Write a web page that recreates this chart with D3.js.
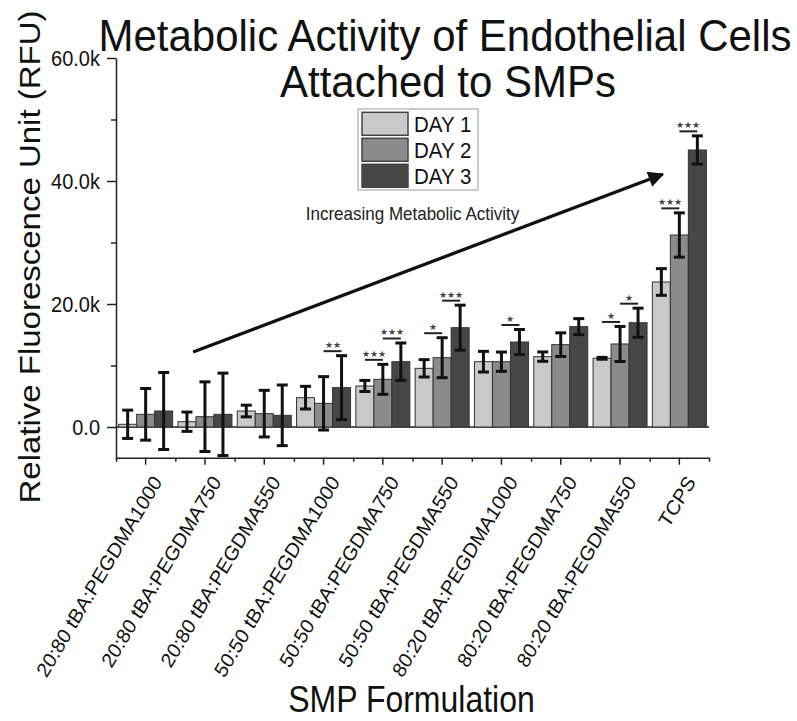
<!DOCTYPE html>
<html><head><meta charset="utf-8">
<script src="https://cdn.jsdelivr.net/npm/d3@7/dist/d3.min.js"></script>
<style>
html,body{margin:0;padding:0;background:#fff;}
svg{display:block;}
text{font-family:"Liberation Sans", Arial, sans-serif;}
</style></head>
<body>
<svg id="chart" width="797" height="721"></svg>
<script>
// ---------- data ----------
const categories = ["20:80 tBA:PEGDMA1000","20:80 tBA:PEGDMA750","20:80 tBA:PEGDMA550",
  "50:50 tBA:PEGDMA1000","50:50 tBA:PEGDMA750","50:50 tBA:PEGDMA550",
  "80:20 tBA:PEGDMA1000","80:20 tBA:PEGDMA750","80:20 tBA:PEGDMA550","TCPS"];
const seriesNames = ["DAY 1","DAY 2","DAY 3"];
const day1 = [440, 860, 2600, 4770, 6670, 9540, 10620, 11440, 11170, 23580];
const day1Err = [2300, 1570, 950, 1840, 900, 1410, 1680, 760, 150, 2170];
const day2 = [2060, 1680, 2170, 3850, 7750, 11270, 10620, 13390, 13500, 31220];
const day2Err = [4200, 5660, 3790, 4340, 2440, 3250, 1570, 1920, 2850, 3600];
const day3 = [2600, 2060, 1900, 6400, 10620, 16150, 13820, 16320, 16960, 45040];
const day3Err = [6260, 6700, 4930, 5200, 3040, 3660, 2030, 1300, 2360, 2300];
// significance brackets: group index, first bar of adjacent pair, label
const sigGroup = [3, 4, 4, 5, 5, 6, 8, 8, 9, 9];
const sigPair  = [1, 0, 1, 0, 1, 1, 0, 1, 0, 1];
const sigLabel = ["★★","★★★","★★★","★","★★★","★","★","★","★★★","★★★"];
const yMajorTicks = [0, 20000, 40000, 60000];
const yMinorTicks = [10000, 30000, 50000];
const yTickLabels = ["0.0","20.0k","40.0k","60.0k"];
// arrow annotation in data space: [category position, value]
const arrowFrom = [1.3, 12200];
const arrowTo = [9.22, 41100];
const arrowText = "Increasing Metabolic Activity";
const arrowTextPos = [5.0, 33700];

const values = [day1, day2, day3];
const errors = [day1Err, day2Err, day3Err];
const colors = ["#c9c9c9", "#8b8b8b", "#474747"];
const SY = 1.1;

// ---------- layout ----------
const svg = d3.select("#chart");
const x = d3.scaleBand().domain(categories).range([116, 709]).padding(0);
const xi = d3.scaleLinear().domain([0, categories.length]).range([116, 709]);
const y = d3.scaleLinear().domain([-5000, 60000]).range([457.75, 58]);
const inner = d3.scaleBand().domain([0,1,2]).range([0, 54]);
const groupOff = (x.bandwidth() - 54) / 2;
const barX = (g, s) => x(categories[g]) + groupOff + inner(s);
const barCx = (g, s) => barX(g, s) + inner.bandwidth() / 2;

function stext(parent, px, py, str, size, anchor, rot, sy) {
  const g = parent.append("g")
    .attr("transform", `translate(${px},${py}) scale(1,${sy || SY})` + (rot ? ` rotate(${rot})` : ""));
  return g.append("text").attr("text-anchor", anchor || "start")
    .attr("font-size", size).attr("fill", "#111").text(str);
}

// ---------- axes ----------
const axisColor = "#222";
const yAxis = svg.append("g").attr("transform", "translate(116,0)")
  .call(d3.axisLeft(y).tickValues(yMajorTicks).tickSize(9).tickSizeOuter(0).tickFormat(""));
yAxis.append("g").call(d3.axisLeft(y).tickValues(yMinorTicks).tickSize(5).tickSizeOuter(0).tickFormat(""))
  .select(".domain").remove();
yAxis.selectAll("path,line").attr("stroke", axisColor).attr("stroke-width", 1.5);
yMajorTicks.forEach((v, i) => {
  stext(svg, 100, y(v), yTickLabels[i], 20, "end").attr("dy", "0.35em");
});

const xAxis = svg.append("g").attr("transform", `translate(0,${y(-5000)})`)
  .call(d3.axisBottom(x).tickSize(7).tickSizeOuter(0).tickFormat(""));
xAxis.append("g").call(d3.axisBottom(xi).tickValues(d3.range(0, categories.length + 1)).tickSize(4).tickSizeOuter(0).tickFormat(""))
  .select(".domain").remove();
xAxis.selectAll("path,line").attr("stroke", axisColor).attr("stroke-width", 1.5);
categories.forEach(c => {
  stext(svg, x(c) + x.bandwidth() / 2 + 17, 482, c, 19, "end", -57);
});

// zero line
svg.append("line").attr("x1", 116).attr("x2", 709).attr("y1", y(0)).attr("y2", y(0))
  .attr("stroke", axisColor).attr("stroke-width", 1.5);

// ---------- bars ----------
const plot = svg.append("g");
seriesNames.forEach((name, s) => {
  plot.selectAll(null).data(values[s]).enter().append("rect")
    .attr("x", (d, g) => barX(g, s))
    .attr("width", inner.bandwidth())
    .attr("y", d => Math.min(y(d), y(0)))
    .attr("height", d => Math.abs(y(0) - y(d)))
    .attr("fill", colors[s]).attr("stroke", "#333").attr("stroke-width", 1);
});
// error bars
const capW = 11;
seriesNames.forEach((name, s) => {
  values[s].forEach((v, g) => {
    const e = errors[s][g], cx = barCx(g, s);
    const eg = plot.append("g").attr("stroke", "#111").attr("stroke-width", 3);
    eg.append("line").attr("x1", cx).attr("x2", cx).attr("y1", y(v - e)).attr("y2", y(v + e));
    eg.append("line").attr("x1", cx - capW/2).attr("x2", cx + capW/2).attr("y1", y(v + e)).attr("y2", y(v + e));
    eg.append("line").attr("x1", cx - capW/2).attr("x2", cx + capW/2).attr("y1", y(v - e)).attr("y2", y(v - e));
  });
});
// significance
sigGroup.forEach((g, i) => {
  const p = sigPair[i];
  const top = Math.max(values[p][g] + errors[p][g], values[p+1][g] + errors[p+1][g]);
  const ly = y(top) - 4.5;
  const x1 = barCx(g, p), x2 = barCx(g, p + 1);
  svg.append("line").attr("x1", x1).attr("x2", x2).attr("y1", ly).attr("y2", ly)
    .attr("stroke", "#222").attr("stroke-width", 2);
  svg.append("text").attr("x", (x1 + x2) / 2).attr("y", ly - 3)
    .attr("text-anchor", "middle").attr("font-size", 8.5)
    .attr("font-family", "DejaVu Sans").attr("fill", "#444").text(sigLabel[i]);
});

// ---------- arrow annotation ----------
const defs = svg.append("defs");
defs.append("marker").attr("id", "ah").attr("viewBox", "0 0 10 10")
  .attr("refX", 9).attr("refY", 5).attr("markerWidth", 6.5).attr("markerHeight", 4.8)
  .attr("orient", "auto").attr("markerUnits", "strokeWidth")
  .append("path").attr("d", "M0,0 L10,5 L0,10 Z").attr("fill", "#111");
svg.append("line")
  .attr("x1", xi(arrowFrom[0])).attr("y1", y(arrowFrom[1]))
  .attr("x2", xi(arrowTo[0])).attr("y2", y(arrowTo[1]))
  .attr("stroke", "#111").attr("stroke-width", 3.3).attr("marker-end", "url(#ah)");
stext(svg, xi(arrowTextPos[0]), y(arrowTextPos[1]), arrowText, 17, "middle").attr("fill", "#222");

// ---------- legend ----------
const lg = svg.append("g");
lg.append("rect").attr("x", 358).attr("y", 109).attr("width", 120).attr("height", 81)
  .attr("fill", "#fff").attr("stroke", "#aaa").attr("stroke-width", 1.2);
seriesNames.forEach((n, s) => {
  lg.append("rect").attr("x", 362).attr("y", 112.3 + s * 26).attr("width", 46).attr("height", 23)
    .attr("fill", colors[s]).attr("stroke", "#444").attr("stroke-width", 1.5);
  stext(lg, 414, 132 + s * 26, n, 20.5, "start");
});

// ---------- titles ----------
stext(svg, 445, 51, "Metabolic Activity of Endothelial Cells", 42, "middle", 0, 1.04);
stext(svg, 448, 97, "Attached to SMPs", 42, "middle", 0, 1.04);
stext(svg, 40, 257, "Relative Fluorescence Unit (RFU)", 30, "middle", -90);
stext(svg, 411.5, 712, "SMP Formulation", 32, "middle", 0, 1.15);
</script>
</body></html>
